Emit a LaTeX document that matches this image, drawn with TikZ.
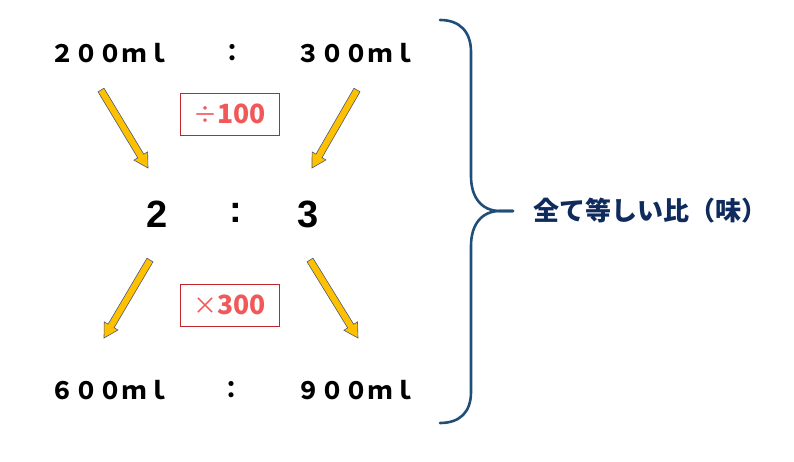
\documentclass[tikz,border=0pt]{standalone}
\usepackage{fontspec}
\setmainfont{Liberation Sans}
\newfontfamily\jp{Noto Sans CJK JP}
\usetikzlibrary{calc}
\definecolor{arrfill}{HTML}{FFC000}
\definecolor{arredge}{HTML}{4A5A78}
\definecolor{boxred}{HTML}{C0262D}
\definecolor{txtred}{HTML}{F0585A}
\definecolor{bracecol}{HTML}{1F4E79}
\definecolor{navy}{HTML}{0F2A5C}
\newcommand\blockarrow[2]{%
  \coordinate (hb) at ($(#2)!14pt!(#1)$);
  \draw[blockarr] ($(#1)!3.5pt!90:(#2)$) -- ($(hb)!3.5pt!-90:(#1)$) -- ($(hb)!8pt!-90:(#1)$) -- (#2)
    -- ($(hb)!8pt!90:(#1)$) -- ($(hb)!3.5pt!90:(#1)$) -- ($(#1)!3.5pt!-90:(#2)$) -- cycle;}
\begin{document}
\begin{tikzpicture}[x=1pt,y=-1pt,
  mltext/.style={font=\jp\bfseries\fontsize{24}{26}\selectfont, text=black, inner sep=0pt},
  bigtext/.style={font=\bfseries\fontsize{38}{40}\selectfont, text=black, inner sep=0pt},
  opbox/.style={draw=boxred, line width=0.9pt, minimum width=99pt, minimum height=42pt, inner sep=0pt,
     text=txtred, font=\jp\bfseries\fontsize{26.5}{28}\selectfont},
  blockarr/.style={fill=arrfill, draw=arredge, line width=0.6pt, line join=miter},
  bracestyle/.style={draw=bracecol, line width=2.6pt, line cap=round},
  eqtext/.style={font=\jp\bfseries\fontsize{26}{28}\selectfont, text=navy, inner sep=0pt, anchor=west}]
\useasboundingbox (0,0) rectangle (794,462);

% top row
\node[mltext] (t1) at (110,53) {２００ｍｌ};
\node[mltext] (tc) at (232,53) {：};
\node[mltext] (t2) at (356,53) {３００ｍｌ};
% middle row
\node[bigtext] (m1) at (157,214) {2};
\node[bigtext] (mc) at (236,213) {:};
\node[bigtext] (m2) at (308,214) {3};
% bottom row
\node[mltext] (b1) at (110,390) {６００ｍｌ};
\node[mltext] (bc) at (231,390) {：};
\node[mltext] (b2) at (356,390) {９００ｍｌ};

% operation boxes
\node[opbox] (div) at (229.5,114) {{\mdseries\fontsize{24}{26}\selectfont ÷}100};
\node[opbox] (mul) at (229.5,305) {{\mdseries\fontsize{24}{26}\selectfont ×}300};

% block arrows
\coordinate (a1s) at (101,90);  \coordinate (a1e) at (148,168);
\coordinate (a2s) at (357,90);  \coordinate (a2e) at (312,168);
\coordinate (a3s) at (150,260); \coordinate (a3e) at (104,338);
\coordinate (a4s) at (310,260); \coordinate (a4e) at (358,338);
\blockarrow{a1s}{a1e}
\blockarrow{a2s}{a2e}
\blockarrow{a3s}{a3e}
\blockarrow{a4s}{a4e}

% brace
\coordinate (brtop) at (440,20);
\coordinate (brtip) at (513,211);
\coordinate (brbot) at (440,423);
\draw[bracestyle] (brtop) .. controls (460,20) and (471,32) .. (471,52) -- (471,176)
  .. controls (471,198) and (482,211) .. (500,211) -- (brtip);
\draw[bracestyle] (brtip) -- (500,211) .. controls (482,211) and (471,224) .. (471,246) -- (471,392)
  .. controls (471,412) and (460,423) .. (brbot);

% label
\node[eqtext] (eq) at (533,211) {全て等しい比（味）};
\end{tikzpicture}
\end{document}
